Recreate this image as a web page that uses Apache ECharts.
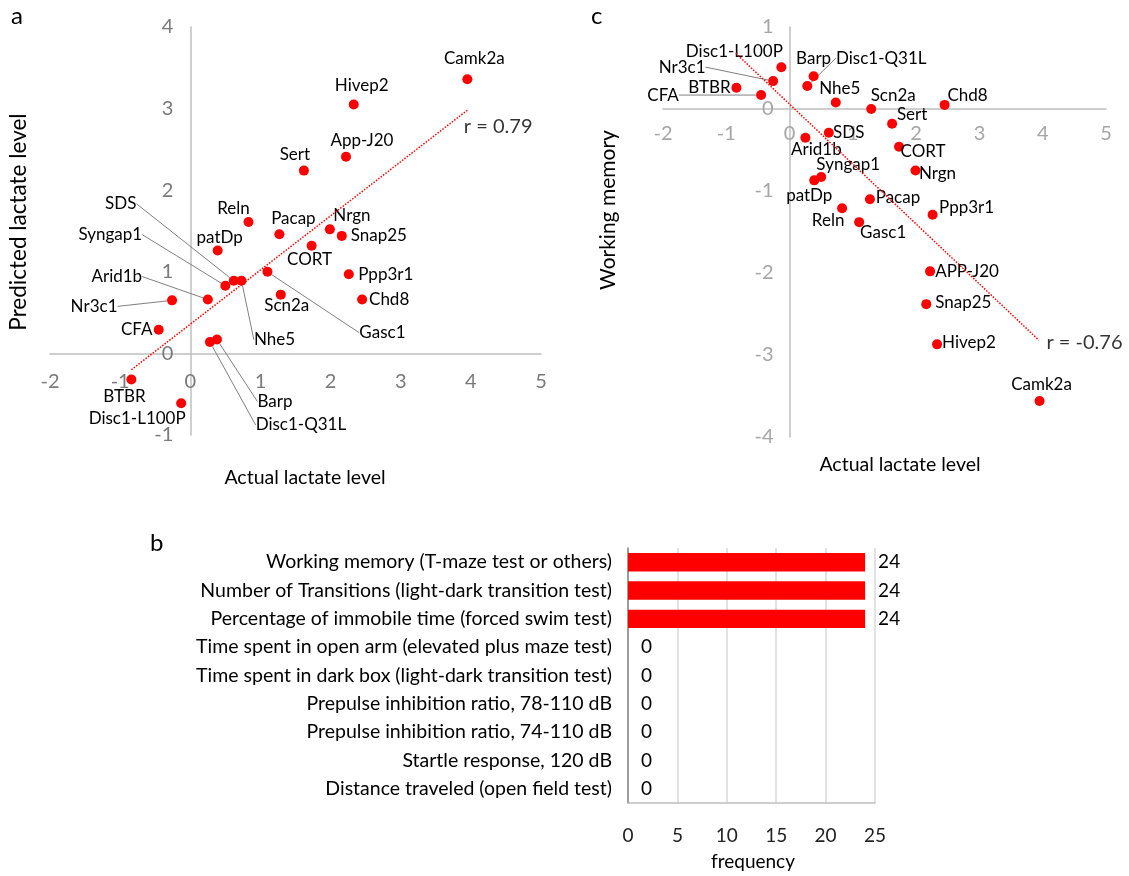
<!DOCTYPE html>
<html>
<head>
<meta charset="utf-8">
<script src="https://cdn.jsdelivr.net/npm/echarts@6.0.0/dist/echarts.min.js"></script>
<style>
html,body{margin:0;padding:0;background:#fff;}
#chart{width:1129px;height:876px;}
</style>
</head>
<body>
<div id="chart"></div>
<script>
// ---------------- DATA ----------------
const genes = ['Camk2a','Hivep2','App-J20','Sert','Reln','Pacap','Nrgn','Snap25','patDp','CORT','Gasc1','SDS','Nhe5','Syngap1','Ppp3r1','Scn2a','Chd8','Arid1b','Nr3c1','CFA','Barp','Disc1-Q31L','BTBR','Disc1-L100P'];
const genesC = ['Camk2a','Hivep2','APP-J20','Sert','Reln','Pacap','Nrgn','Snap25','patDp','CORT','Gasc1','SDS','Nhe5','Syngap1','Ppp3r1','Scn2a','Chd8','Arid1b','Nr3c1','CFA','Barp','Disc1-Q31L','BTBR','Disc1-L100P'];
const actualLactate = [3.95,2.33,2.22,1.62,0.83,1.27,1.99,2.16,0.39,1.73,1.10,0.62,0.73,0.50,2.26,1.29,2.45,0.25,-0.26,-0.45,0.38,0.28,-0.84,-0.13];
const predictedLactate = [3.36,3.05,2.41,2.24,1.61,1.46,1.52,1.44,1.26,1.32,1.00,0.89,0.89,0.83,0.97,0.72,0.66,0.66,0.65,0.29,0.17,0.14,-0.32,-0.61];
const workingMemory = [-3.56,-2.87,-1.98,-0.18,-1.21,-1.10,-0.75,-2.38,-0.87,-0.46,-1.38,-0.29,0.08,-0.83,-1.29,0.00,0.05,-0.35,0.34,0.17,0.40,0.28,0.26,0.51];
const trendA = [[-0.84,-0.20],[3.95,2.98]];
const trendC = [[-0.85,0.68],[3.94,-2.82]];
const rLabelA = 'r = 0.79';
const rLabelC = 'r = -0.76';
const behaviors = ['Working memory (T-maze test or others)','Number of Transitions (light-dark transition test)','Percentage of immobile time (forced swim test)','Time spent in open arm (elevated plus maze test)','Time spent in dark box (light-dark transition test)','Prepulse inhibition ratio, 78-110 dB','Prepulse inhibition ratio, 74-110 dB','Startle response, 120 dB','Distance traveled (open field test)'];
const frequency = [24,24,24,0,0,0,0,0,0];

// ---------------- LABEL PLACEMENT (style) ----------------
const offA = {
  'Camk2a':[7,-21],'Hivep2':[8,-19],'App-J20':[16,-16],'Sert':[-9,-16],'Reln':[-15,-14],'Pacap':[14,-16],
  'Nrgn':[22,-14],'Snap25':[37,0],'patDp':[2,-13],'CORT':[-2,14],'Gasc1':[115,61],'SDS':[-113,-77],
  'Nhe5':[33,59],'Syngap1':[-115,-51],'Ppp3r1':[37,0],'Scn2a':[6,11],'Chd8':[27,0],'Arid1b':[-91,-23],
  'Nr3c1':[-78,6],'CFA':[-22,0],'Barp':[58,62],'Disc1-Q31L':[91,83],'BTBR':[-7,17],'Disc1-L100P':[-44,15]
};
const offC = {
  'Camk2a':[2,-16],'Hivep2':[32,-2],'APP-J20':[37,0],'Sert':[20,-9],'Reln':[-14,12],'Pacap':[28,-2],
  'Nrgn':[22,3],'Snap25':[37,-2],'patDp':[-5,15],'CORT':[24,5],'Gasc1':[24,10],'SDS':[20,0],
  'Nhe5':[4,-14],'Syngap1':[27,-13],'Ppp3r1':[34,-7],'Scn2a':[22,-13],'Chd8':[23,-9],'Arid1b':[11,12],
  'Nr3c1':[-91,-14],'CFA':[-98,0],'Barp':[0,-18],'Disc1-Q31L':[74,-28],'BTBR':[-27,0],'Disc1-L100P':[-47,-16]
};
const leadersA = ['Gasc1','SDS','Nhe5','Syngap1','Arid1b','Nr3c1','Barp','Disc1-Q31L'];
const leadersC = ['Nr3c1','CFA','Disc1-Q31L'];

const FONT = 'Lato';
const RED = '#ff0000';

function scatterData(names, xs, ys, leaders){
  return names.map((n,i)=>({
    name:n, value:[xs[i], ys[i]],
    labelLine:{show: leaders.indexOf(n)>=0}
  }));
}

function valueAxis(gridIndex, min, max, labelColor, margin){
  return {
    type:'value', gridIndex, min, max, interval:1, offset:0,
    splitLine:{show:false},
    axisTick:{show:false},
    axisLine:{show:true, onZero:false, lineStyle:{color:'#bfbfbf', width:1.5}},
    axisLabel:{color:labelColor, fontSize:20, fontFamily:FONT, margin}
  };
}

const chart = echarts.init(document.getElementById('chart'), null, {renderer:'canvas'});
const option = {
  animation:false,
  backgroundColor:'#fff',
  textStyle:{fontFamily:FONT},
  grid:[
    {left:50, top:27, width:491, height:408},
    {left:663, top:27, width:443, height:410},
    {left:628, top:548, width:247, height:255}
  ],
  xAxis:[
    valueAxis(0,-2,5,'#7a7a7a',18),
    valueAxis(1,-2,5,'#a6a6a6',15),
    {
      type:'value', gridIndex:2, min:0, max:25, interval:5,
      splitLine:{show:true, lineStyle:{color:'#d9d9d9', width:1.5}},
      axisTick:{show:false},
      axisLine:{show:true, lineStyle:{color:'#bfbfbf', width:1.5}},
      axisLabel:{color:'#222', fontSize:19, fontFamily:FONT, margin:23}
    }
  ],
  yAxis:[
    valueAxis(0,-1,4,'#7a7a7a',17),
    valueAxis(1,-4,1,'#a6a6a6',16),
    {
      type:'category', gridIndex:2, data:behaviors, inverse:true,
      axisTick:{show:false},
      axisLine:{show:true, lineStyle:{color:'#868686', width:1.5}},
      axisLabel:{color:'#000', fontSize:19.5, fontFamily:FONT, margin:16}
    }
  ],
  series:[
    {
      type:'line', xAxisIndex:0, yAxisIndex:0, data:trendA, showSymbol:false, silent:true,
      lineStyle:{color:RED, type:[1.5,1.5], width:1.5}
    },
    {
      type:'scatter', xAxisIndex:0, yAxisIndex:0, data:[trendA[1]], symbolSize:1, silent:true,
      itemStyle:{color:'transparent'},
      label:{show:true, position:'right', distance:0, offset:[-4,16], formatter:rLabelA, color:'#000', fontSize:20, fontFamily:FONT}
    },
    {
      type:'scatter', xAxisIndex:0, yAxisIndex:0, symbolSize:10,
      itemStyle:{color:RED, opacity:1},
      data:scatterData(genes, actualLactate, predictedLactate, leadersA),
      label:{show:true, position:'inside', formatter:p=>p.name, color:'#000', fontSize:17, fontFamily:FONT},
      labelLine:{show:false, lineStyle:{color:'#808080', width:1}},
      labelLayout:function(p){ const o = offA[genes[p.dataIndex]]; return {dx:o[0], dy:o[1]}; }
    },
    {
      type:'line', xAxisIndex:1, yAxisIndex:1, data:trendC, showSymbol:false, silent:true,
      lineStyle:{color:RED, type:[1.5,1.5], width:1.5}
    },
    {
      type:'scatter', xAxisIndex:1, yAxisIndex:1, data:[trendC[1]], symbolSize:1, silent:true,
      itemStyle:{color:'transparent'},
      label:{show:true, position:'right', distance:0, offset:[7,2], formatter:rLabelC, color:'#000', fontSize:20, fontFamily:FONT}
    },
    {
      type:'scatter', xAxisIndex:1, yAxisIndex:1, symbolSize:10,
      itemStyle:{color:RED, opacity:1},
      data:scatterData(genesC, actualLactate, workingMemory, leadersC),
      label:{show:true, position:'inside', formatter:p=>p.name, color:'#000', fontSize:17, fontFamily:FONT},
      labelLine:{show:false, lineStyle:{color:'#808080', width:1}},
      labelLayout:function(p){ const o = offC[genesC[p.dataIndex]]; return {dx:o[0], dy:o[1]}; }
    },
    {
      type:'bar', xAxisIndex:2, yAxisIndex:2, data:frequency, barCategoryGap:'35%',
      itemStyle:{color:RED},
      label:{show:true, position:'right', distance:13, color:'#000', fontSize:19, fontFamily:FONT}
    }
  ],
  graphic:[
    {type:'text', left:11, top:4, style:{text:'a', fontSize:24, fontFamily:FONT, fill:'#000'}},
    {type:'text', left:591, top:4, style:{text:'c', fontSize:24, fontFamily:FONT, fill:'#000'}},
    {type:'text', left:150, top:531, style:{text:'b', fontSize:24, fontFamily:FONT, fill:'#000'}},
    {type:'text', x:19, y:222, rotation:Math.PI/2, style:{text:'Predicted lactate level', fontSize:22.5, fontFamily:FONT, fill:'#000', align:'center', verticalAlign:'middle'}},
    {type:'text', x:305, y:478, style:{text:'Actual lactate level', fontSize:19.5, fontFamily:FONT, fill:'#000', align:'center', verticalAlign:'middle'}},
    {type:'text', x:608, y:210, rotation:Math.PI/2, style:{text:'Working memory', fontSize:21, fontFamily:FONT, fill:'#000', align:'center', verticalAlign:'middle'}},
    {type:'text', x:900, y:465, style:{text:'Actual lactate level', fontSize:19.5, fontFamily:FONT, fill:'#000', align:'center', verticalAlign:'middle'}},
    {type:'text', x:753, y:862, style:{text:'frequency', fontSize:19, fontFamily:FONT, fill:'#000', align:'center', verticalAlign:'middle'}}
  ]
};
chart.setOption(option);

// Place each scatter panel's axes through the origin, using the library's own scales.
function crossAtZero(i, xMin, yMin){
  const xZero = chart.convertToPixel({xAxisIndex:i}, 0);
  const xLeft = chart.convertToPixel({xAxisIndex:i}, xMin);
  const yZero = chart.convertToPixel({yAxisIndex:i}, 0);
  const yBottom = chart.convertToPixel({yAxisIndex:i}, yMin);
  return {xOffset: yZero - yBottom, yOffset: xLeft - xZero};
}
const oa = crossAtZero(0, -2, -1);
const oc = crossAtZero(1, -2, -4);
chart.setOption({
  xAxis:[{offset:oa.xOffset},{offset:oc.xOffset},{}],
  yAxis:[{offset:oa.yOffset},{offset:oc.yOffset},{}]
});
</script>
</body>
</html>
